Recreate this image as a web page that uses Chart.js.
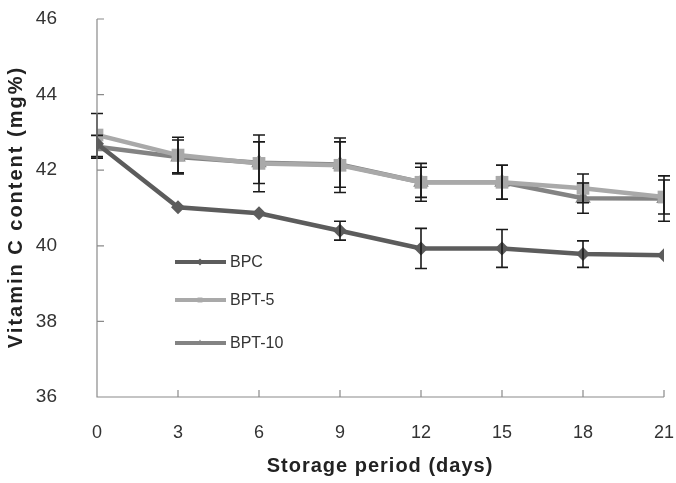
<!DOCTYPE html>
<html>
<head>
<meta charset="utf-8">
<script src="https://cdn.jsdelivr.net/npm/chart.js@4"></script>
<style>
  html, body { margin: 0; padding: 0; background: #fff; }
  #wrap { width: 676px; height: 483px; position: relative; }
</style>
</head>
<body>
<div id="wrap"><canvas id="chart"></canvas></div>
<script>
const days = [0, 3, 6, 9, 12, 15, 18, 21];
const yTicks = [36, 38, 40, 42, 44, 46];

const bpc = [42.7, 41.02, 40.86, 40.4, 39.93, 39.93, 39.78, 39.75];
const bpcErr = [0, 0, 0, 0.25, 0.53, 0.5, 0.35, 0];
const bpt5 = [42.93, 42.4, 42.18, 42.13, 41.68, 41.68, 41.52, 41.29];
const bpt5Err = [0.57, 0.47, 0.75, 0.72, 0.5, 0.45, 0.38, 0.45];
const bpt10 = [42.62, 42.35, 42.2, 42.15, 41.68, 41.68, 41.26, 41.25];
const bpt10Err = [0.3, 0.45, 0.55, 0.6, 0.4, 0.45, 0.4, 0.6];

const FONT = "'Liberation Sans', Arial, sans-serif";

const toPts = (vals) => vals.map((v, i) => ({ x: days[i], y: v }));

const series = [
  { label: 'BPC', data: bpc, err: bpcErr, color: '#5c5c5c', style: 'rectRot', r: 7 },
  { label: 'BPT-5', data: bpt5, err: bpt5Err, color: '#a9a9a9', style: 'rect', r: 9 },
  { label: 'BPT-10', data: bpt10, err: bpt10Err, color: '#838383', style: 'triangle', r: 9 }
];

// error bars, inward axis ticks, titles and the legend inside the plot
const extras = {
  id: 'extras',
  afterDatasetsDraw(chart) {
    const { ctx, scales: { x, y } } = chart;
    ctx.save();
    ctx.strokeStyle = '#1a1a1a';
    ctx.lineWidth = 1.6;
    series.forEach(s => {
      s.data.forEach((v, i) => {
        const e = s.err[i];
        if (!e) return;
        const px = x.getPixelForValue(days[i]);
        const top = y.getPixelForValue(v + e);
        const bot = y.getPixelForValue(v - e);
        ctx.beginPath();
        ctx.moveTo(px, top); ctx.lineTo(px, bot);
        ctx.moveTo(px - 6, top); ctx.lineTo(px + 6, top);
        ctx.moveTo(px - 6, bot); ctx.lineTo(px + 6, bot);
        ctx.stroke();
      });
    });

    // axes with inward ticks
    ctx.strokeStyle = '#8a8a8a';
    ctx.lineWidth = 1.2;
    const x0 = x.getPixelForValue(0), x1 = x.getPixelForValue(21);
    const y0 = y.getPixelForValue(36), y1 = y.getPixelForValue(46);
    ctx.beginPath();
    ctx.moveTo(x0, y1); ctx.lineTo(x0, y0); ctx.lineTo(x1, y0);
    yTicks.forEach(t => {
      const py = y.getPixelForValue(t);
      ctx.moveTo(x0, py); ctx.lineTo(x0 + 7, py);
    });
    days.forEach(d => {
      const px = x.getPixelForValue(d);
      ctx.moveTo(px, y0); ctx.lineTo(px, y0 - 7);
    });
    ctx.stroke();

    // axis titles
    ctx.fillStyle = '#222';
    ctx.textAlign = 'center';
    ctx.textBaseline = 'middle';
    ctx.font = 'bold 20px ' + FONT;
    ctx.letterSpacing = '1px';
    ctx.fillText('Storage period (days)', 380, 466);
    ctx.save();
    ctx.translate(16, 207);
    ctx.rotate(-Math.PI / 2);
    ctx.letterSpacing = '2px';
    ctx.fillText('Vitamin C content (mg%)', 0, 0);
    ctx.restore();
    ctx.letterSpacing = '0px';

    // legend
    const legY = [262, 300, 343];
    ctx.font = '16px ' + FONT;
    ctx.textAlign = 'left';
    series.forEach((s, i) => {
      const ly = legY[i];
      ctx.strokeStyle = s.color;
      ctx.lineWidth = 4;
      ctx.beginPath();
      ctx.moveTo(175, ly); ctx.lineTo(226, ly);
      ctx.stroke();
      ctx.fillStyle = s.color;
      Chart.helpers.drawPoint(ctx, { pointStyle: s.style, radius: 3.5, borderWidth: 0 }, 200, ly);
      ctx.fillStyle = '#333';
      ctx.fillText(s.label, 230, ly + 1);
    });
    ctx.restore();
  }
};

new Chart(document.getElementById('chart'), {
  type: 'line',
  data: {
    datasets: series.map(s => ({
      label: s.label,
      data: toPts(s.data),
      borderColor: s.color,
      backgroundColor: s.color,
      borderWidth: 4.5,
      pointStyle: s.style,
      pointRadius: s.r,
      pointBorderWidth: 0,
      tension: 0
    }))
  },
  options: {
    responsive: true,
    maintainAspectRatio: false,
    animation: false,
    layout: { padding: { top: 19, right: 12, left: 0, bottom: 0 } },
    plugins: { legend: { display: false }, tooltip: { enabled: false } },
    scales: {
      x: {
        type: 'linear', min: 0, max: 21,
        afterBuildTicks: (sc) => { sc.ticks = days.map(v => ({ value: v })); },
        afterFit: (sc) => { sc.height = 86; sc.paddingLeft = 0; sc.paddingRight = 0; },
        border: { display: false },
        grid: { display: false },
        ticks: { color: '#333', font: { family: FONT, size: 18 }, padding: 17 }
      },
      y: {
        min: 36, max: 46,
        afterBuildTicks: (sc) => { sc.ticks = yTicks.map(v => ({ value: v })); },
        afterFit: (sc) => { sc.width = 97; sc.paddingTop = 0; sc.paddingBottom = 0; },
        border: { display: false },
        grid: { display: false },
        ticks: { color: '#333', font: { family: FONT, size: 19 }, padding: 32 }
      }
    }
  },
  plugins: [extras]
});
</script>
</body>
</html>
